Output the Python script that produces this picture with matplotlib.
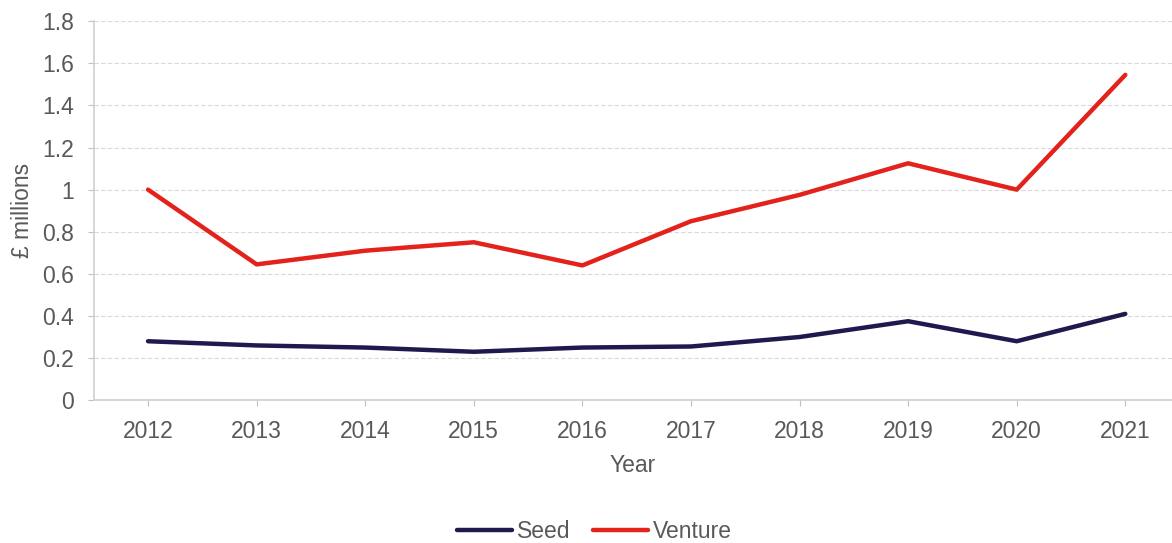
import matplotlib.pyplot as plt

years = ["2012", "2013", "2014", "2015", "2016", "2017", "2018", "2019", "2020", "2021"]
seed = [0.28, 0.26, 0.25, 0.23, 0.25, 0.255, 0.30, 0.375, 0.28, 0.41]
venture = [1.0, 0.645, 0.71, 0.75, 0.64, 0.85, 0.975, 1.125, 1.0, 1.545]
y_ticks = [0, 0.2, 0.4, 0.6, 0.8, 1.0, 1.2, 1.4, 1.6, 1.8]
y_tick_labels = ["0", "0.2", "0.4", "0.6", "0.8", "1", "1.2", "1.4", "1.6", "1.8"]

plt.rcParams['font.family'] = ['Liberation Sans', 'DejaVu Sans']
text_col = "#595959"
fs = 16.5

fig = plt.figure(figsize=(11.72, 5.43), dpi=100)
ax = fig.add_axes([0.080, 0.263, 0.92, 0.698])

x = list(range(len(years)))
ax.plot(x, seed, color="#1e1a4d", linewidth=3.2, solid_capstyle="round", label="Seed")
ax.plot(x, venture, color="#e3231b", linewidth=3.2, solid_capstyle="round", label="Venture")

ax.set_xlim(-0.5, 9.43)
ax.set_ylim(0, 1.8)
ax.set_xticks(x)
ax.set_xticklabels(years)
ax.set_yticks(y_ticks)
ax.set_yticklabels(y_tick_labels)
ax.tick_params(axis="both", labelsize=fs, colors="#bfbfbf", labelcolor=text_col, length=4)
ax.tick_params(axis="y", pad=10)
ax.tick_params(axis="x", pad=10)

ax.grid(axis="y", color="#d9d9d9", linestyle=(0, (4, 2)), linewidth=0.8)
ax.set_axisbelow(True)
for side in ["top", "right"]:
    ax.spines[side].set_visible(False)
ax.spines["left"].set_color("#d0d0d0")
ax.spines["bottom"].set_color("#d0d0d0")
ax.spines["left"].set_linewidth(1.2)
ax.spines["bottom"].set_linewidth(1.2)

ax.set_xlabel("Year", fontsize=fs, color=text_col, labelpad=8)
ax.set_ylabel("£ millions", fontsize=fs, color=text_col, labelpad=6)

fig.legend(loc="lower center", bbox_to_anchor=(0.507, -0.038), ncol=2, frameon=False,
           fontsize=fs, labelcolor=text_col, handlelength=2.4, handletextpad=0.2,
           columnspacing=1.0)

fig.savefig("out.png", dpi=100)
